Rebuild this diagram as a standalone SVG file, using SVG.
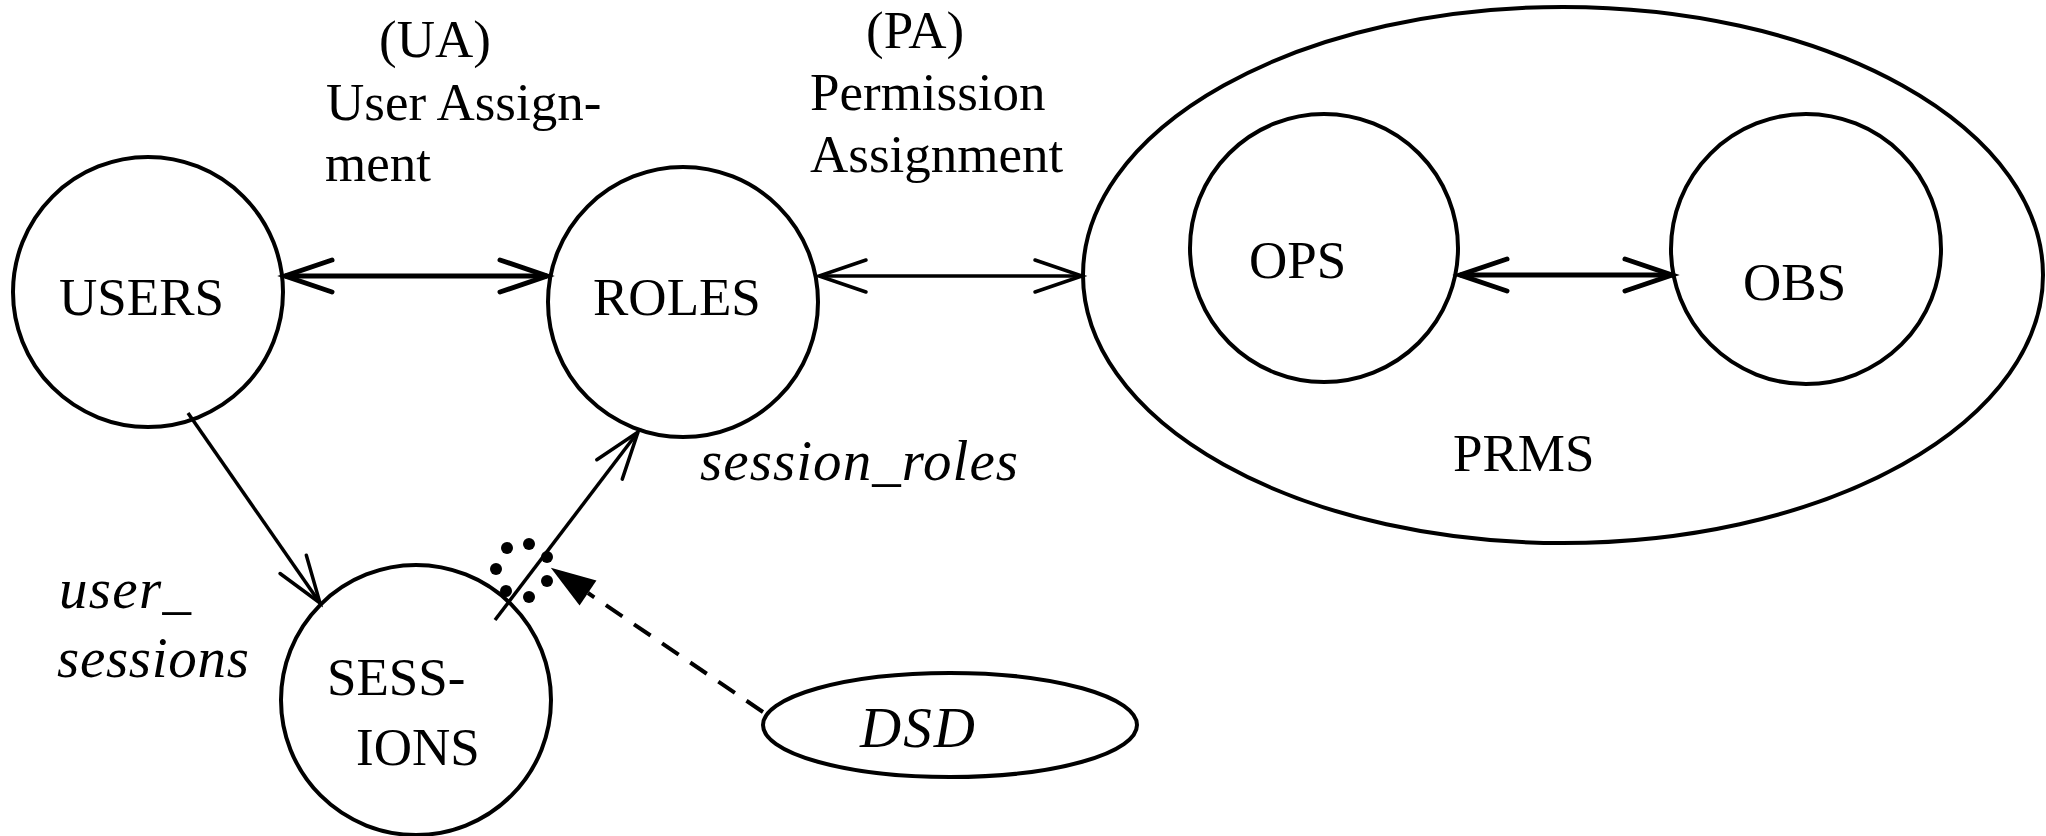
<svg xmlns="http://www.w3.org/2000/svg" width="2046" height="836" viewBox="0 0 2046 836">
<style>
.node{fill:none;stroke:#000;stroke-width:4}
.lbl{font-family:"Liberation Serif","Times New Roman",serif;font-size:53px;fill:#000}
.it{font-family:"Liberation Serif","Times New Roman",serif;font-size:57px;font-style:italic;fill:#000}
.edge{fill:none;stroke:#000;stroke-width:3.5}
.thick{stroke-width:5}
.dash{stroke-dasharray:20 14;stroke-width:4}
.dot{fill:#000}
</style>
<defs>
<marker id="open" viewBox="-55 -22 60 44" refX="0" refY="0" markerWidth="60" markerHeight="44" markerUnits="userSpaceOnUse" orient="auto-start-reverse" overflow="visible">
<path d="M-47,-16 L0,0 L-47,16" fill="none" stroke="#000" stroke-width="3.5" stroke-linecap="round"/>
</marker>
<marker id="openThick" viewBox="-55 -22 60 44" refX="0" refY="0" markerWidth="60" markerHeight="44" markerUnits="userSpaceOnUse" orient="auto-start-reverse" overflow="visible">
<path d="M-47,-16 L0,0 L-47,16" fill="none" stroke="#000" stroke-width="5" stroke-linecap="round"/>
</marker>
<marker id="filled" viewBox="-2 -18 50 36" refX="0" refY="0" markerWidth="50" markerHeight="36" markerUnits="userSpaceOnUse" orient="auto" overflow="visible">
<path d="M45,0 L0,-15 L0,15 Z" fill="#000"/>
</marker>
</defs>
<rect width="2046" height="836" fill="#fff"/>

<g id="labels">
<text class="lbl" x="379" y="57">(UA)</text>
<text class="lbl" x="326" y="120">User Assign-</text>
<text class="lbl" x="325" y="181">ment</text>
<text class="lbl" x="866" y="48">(PA)</text>
<text class="lbl" x="810" y="110">Permission</text>
<text class="lbl" x="810" y="172">Assignment</text>
<text class="it" x="59" y="608" textLength="132">user_</text>
<text class="it" x="57" y="677" textLength="192">sessions</text>
<text class="it" x="700" y="480" textLength="318">session_roles</text>
</g>

<g id="prms">
<ellipse class="node" cx="1563" cy="275" rx="480" ry="268"/>
<text class="lbl" x="1453" y="471">PRMS</text>
</g>
<g id="users">
<circle class="node" cx="148" cy="292" r="135"/>
<text class="lbl" x="59" y="315">USERS</text>
</g>
<g id="roles">
<circle class="node" cx="683" cy="302" r="135"/>
<text class="lbl" x="593" y="315">ROLES</text>
</g>
<g id="sessions">
<circle class="node" cx="416" cy="700" r="135"/>
<text class="lbl" x="327" y="695">SESS-</text>
<text class="lbl" x="356" y="765">IONS</text>
</g>
<g id="ops">
<circle class="node" cx="1324" cy="248" r="134"/>
<text class="lbl" x="1249" y="278">OPS</text>
</g>
<g id="obs">
<circle class="node" cx="1806" cy="249" r="135"/>
<text class="lbl" x="1743" y="300">OBS</text>
</g>
<g id="dsd">
<ellipse class="node" cx="950" cy="725" rx="187" ry="52"/>
<text class="it" x="860" y="747" textLength="115">DSD</text>
</g>

<g id="connectors">
<line class="edge thick" x1="285" y1="276" x2="547" y2="276" marker-start="url(#openThick)" marker-end="url(#openThick)"/>
<line class="edge" x1="819" y1="276" x2="1082" y2="276" marker-start="url(#open)" marker-end="url(#open)"/>
<line class="edge thick" x1="1460" y1="275" x2="1672" y2="275" marker-start="url(#openThick)" marker-end="url(#openThick)"/>
<line class="edge" x1="188" y1="413" x2="320" y2="603" marker-end="url(#open)"/>
<line class="edge" x1="495" y1="620" x2="638" y2="432" marker-end="url(#open)"/>
<line class="edge dash" x1="763" y1="712" x2="588" y2="593" marker-end="url(#filled)"/>
<g id="dsd-ring">
<circle class="dot" cx="507" cy="548" r="6"/>
<circle class="dot" cx="529" cy="544" r="6"/>
<circle class="dot" cx="547" cy="557" r="6"/>
<circle class="dot" cx="547" cy="581" r="6"/>
<circle class="dot" cx="529" cy="597" r="6"/>
<circle class="dot" cx="506" cy="591" r="6"/>
<circle class="dot" cx="496" cy="569" r="6"/>
</g>
</g>
</svg>
